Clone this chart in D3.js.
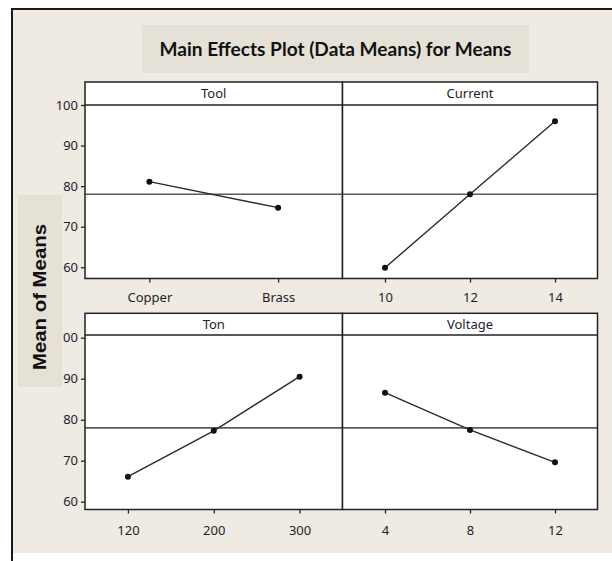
<!DOCTYPE html>
<html>
<head>
<meta charset="utf-8">
<script src="https://cdn.jsdelivr.net/npm/d3@7"></script>
<style>
  html, body { margin: 0; padding: 0; background: #fff; }
  svg { display: block; }
  .tick-label, .strip-label { font-family: "Noto Sans", "DejaVu Sans", sans-serif; font-size: 13px; fill: #1e1e2a; }
</style>
</head>
<body>
<div id="app"></div>
<script>
// factor names shown in the panel strips
const factors = ['Tool', 'Current', 'Ton', 'Voltage']

// levels and means for each factor
const toolLevels = ['Copper', 'Brass']
const toolMeans = [81.1, 74.7]
const currentLevels = ['10', '12', '14']
const currentMeans = [59.9, 78.0, 96.0]
const tonLevels = ['120', '200', '300']
const tonMeans = [66.1, 77.3, 90.5]
const voltageLevels = ['4', '8', '12']
const voltageMeans = [86.6, 77.5, 69.6]

// grand mean (reference line) and y ticks
const grandMean = 78.0
const yTicks = [60, 70, 80, 90, 100]

function main() {
  const W = 612, H = 561
  const app = d3.select('#app')

  const svg = d3.create('svg')
    .attr('width', W)
    .attr('height', H)
    .attr('viewBox', [0, 0, W, H])

  // beige background with the outer frame
  svg.append('rect')
    .attr('x', 12).attr('y', 9)
    .attr('width', W - 12).attr('height', 544)
    .attr('fill', '#efebe2')
  svg.append('path')
    .attr('d', `M12,${H} V9 H${W}`)
    .attr('fill', 'none')
    .attr('stroke', '#1a1a1a')
    .attr('stroke-width', 2)

  // title box
  svg.append('rect')
    .attr('x', 142).attr('y', 25)
    .attr('width', 387).attr('height', 48)
    .attr('fill', '#e5e1d7')
  svg.append('text')
    .attr('x', 335.5).attr('y', 56)
    .attr('text-anchor', 'middle')
    .attr('font-family', 'Lato, "Open Sans", sans-serif')
    .attr('font-weight', 'bold')
    .attr('font-size', 19)
    .attr('textLength', 352)
    .attr('lengthAdjust', 'spacingAndGlyphs')
    .attr('fill', '#111')
    .text('Main Effects Plot (Data Means) for Means')

  // panel layout: two rows, two columns
  const colEdges = [85, 342.5, 597.5]
  const rows = [
    { stripTop: 82, plotTop: 105, plotBottom: 278.5, y100: 105, y60: 267.3, labelY: 297 },
    { stripTop: 313.3, plotTop: 335, plotBottom: 509.5, y100: 337.7, y60: 501.7, labelY: 530 }
  ]

  const panels = [
    { name: factors[0], levels: toolLevels, means: toolMeans, row: 0, col: 0 },
    { name: factors[1], levels: currentLevels, means: currentMeans, row: 0, col: 1 },
    { name: factors[2], levels: tonLevels, means: tonMeans, row: 1, col: 0 },
    { name: factors[3], levels: voltageLevels, means: voltageMeans, row: 1, col: 1 }
  ]

  panels.forEach((p) => {
    const r = rows[p.row]
    const x0 = colEdges[p.col], x1 = colEdges[p.col + 1]

    const y = d3.scaleLinear().domain([60, 100]).range([r.y60, r.y100])
    const x = d3.scalePoint().domain(p.levels).range([x0, x1]).padding(0.5)

    const g = svg.append('g')

    // white plot area + strip
    g.append('rect')
      .attr('x', x0).attr('y', r.stripTop)
      .attr('width', x1 - x0).attr('height', r.plotBottom - r.stripTop)
      .attr('fill', '#fff')

    // grand mean reference line
    g.append('line')
      .attr('x1', x0).attr('x2', x1)
      .attr('y1', y(grandMean)).attr('y2', y(grandMean))
      .attr('stroke', '#5a5a5a')
      .attr('stroke-width', 1.6)

    // line connecting level means
    const line = d3.line()
      .x((d, i) => x(p.levels[i]))
      .y((d) => y(d))
    g.append('path')
      .datum(p.means)
      .attr('d', line)
      .attr('fill', 'none')
      .attr('stroke', '#2a2a2a')
      .attr('stroke-width', 1.4)

    g.selectAll('circle')
      .data(p.means)
      .join('circle')
      .attr('cx', (d, i) => x(p.levels[i]))
      .attr('cy', (d) => y(d))
      .attr('r', 3)
      .attr('fill', '#111')

    // strip separator and label
    g.append('line')
      .attr('x1', x0).attr('x2', x1)
      .attr('y1', r.plotTop).attr('y2', r.plotTop)
      .attr('stroke', '#222')
      .attr('stroke-width', 1.5)
    g.append('text')
      .attr('class', 'strip-label')
      .attr('x', (x0 + x1) / 2)
      .attr('y', (r.stripTop + r.plotTop) / 2 + 4.5)
      .attr('text-anchor', 'middle')
      .text(p.name)

    // panel border
    g.append('rect')
      .attr('x', x0).attr('y', r.stripTop)
      .attr('width', x1 - x0).attr('height', r.plotBottom - r.stripTop)
      .attr('fill', 'none')
      .attr('stroke', '#222')
      .attr('stroke-width', 1.5)

    // x axis ticks + labels
    const xAxis = d3.axisBottom(x).tickSize(4).tickPadding(8)
    const gx = svg.append('g')
      .attr('transform', `translate(0,${r.plotBottom})`)
      .call(xAxis)
    gx.select('.domain').remove()
    gx.selectAll('.tick line').attr('stroke', '#222').attr('stroke-width', 1.3)
    gx.selectAll('.tick text')
      .attr('class', 'tick-label')
      .attr('y', r.labelY - r.plotBottom + 4.5)
      .attr('dy', null)
      .attr('font-family', null)
      .attr('font-size', null)

    // y axis on the left column only
    if (p.col === 0) {
      const yAxis = d3.axisLeft(y).tickValues(yTicks).tickSize(4).tickPadding(3)
      const gy = svg.append('g')
        .attr('transform', `translate(${x0},0)`)
        .call(yAxis)
      gy.select('.domain').remove()
      gy.selectAll('.tick line').attr('stroke', '#222').attr('stroke-width', 1.3)
      gy.selectAll('.tick text')
        .attr('class', 'tick-label')
        .attr('font-family', null)
        .attr('font-size', null)
    }
  })

  // y axis title box (drawn on top, it hides part of a tick label)
  svg.append('rect')
    .attr('x', 18).attr('y', 195)
    .attr('width', 44).attr('height', 192)
    .attr('fill', '#e5e1d7')
  svg.append('text')
    .attr('transform', 'translate(46,297) rotate(-90)')
    .attr('text-anchor', 'middle')
    .attr('font-family', '"Liberation Sans", Arial, sans-serif')
    .attr('font-weight', 'bold')
    .attr('font-size', 17.5)
    .attr('textLength', 146)
    .attr('lengthAdjust', 'spacingAndGlyphs')
    .attr('fill', '#111')
    .text('Mean of Means')

  app.append(() => svg.node())
}

main();
</script>
</body>
</html>
